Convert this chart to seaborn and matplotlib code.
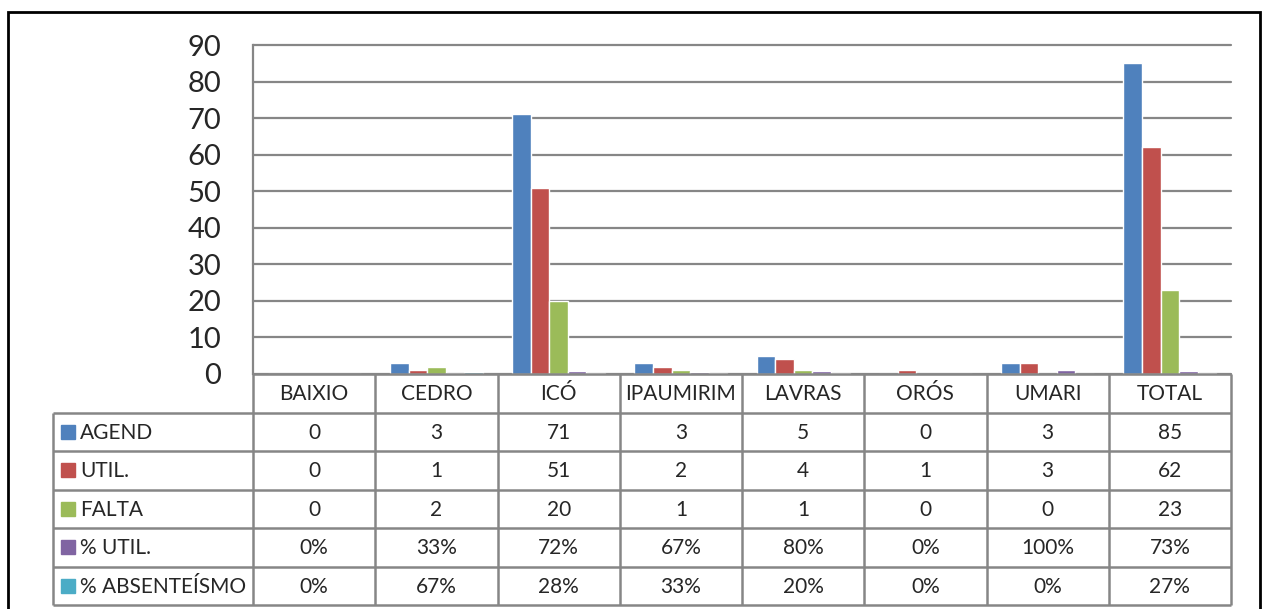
import pandas as pd
import matplotlib.pyplot as plt
import seaborn as sns
from matplotlib.patches import Rectangle

cidades = ['BAIXIO', 'CEDRO', 'ICÓ', 'IPAUMIRIM', 'LAVRAS', 'ORÓS', 'UMARI', 'TOTAL']
series = ['AGEND', 'UTIL.', 'FALTA', '% UTIL.', '% ABSENTEÍSMO']
agend = [0, 3, 71, 3, 5, 0, 3, 85]
util = [0, 1, 51, 2, 4, 1, 3, 62]
falta = [0, 2, 20, 1, 1, 0, 0, 23]
pct_util = [0, 0.33, 0.72, 0.67, 0.80, 0, 1.00, 0.73]
pct_abs = [0, 0.67, 0.28, 0.33, 0.20, 0, 0, 0.27]
cores = ['#4F81BD', '#C0504D', '#9BBB59', '#8064A2', '#4BACC6']

valores = [agend, util, falta, pct_util, pct_abs]
rows = []
for s, vals in zip(series, valores):
    for c, v in zip(cidades, vals):
        rows.append({'cidade': c, 'serie': s, 'valor': v})
df = pd.DataFrame(rows)

sns.set_style('white')
plt.rcParams['font.family'] = ['Lato', 'DejaVu Sans']

W, H = 1263, 609
fig = plt.figure(figsize=(W / 100, H / 100), dpi=100)

def px(x0, y0, x1, y1):
    # pixel box (top-left origin) -> figure fraction
    return [x0 / W, 1 - y1 / H, (x1 - x0) / W, (y1 - y0) / H]

grid_c = '#868686'

ax = fig.add_axes(px(253, 45, 1231, 374))
sns.barplot(data=df, x='cidade', y='valor', hue='serie', palette=cores,
            width=0.76, saturation=1, legend=False, ax=ax)
ax.set_ylim(0, 90)
ax.set_xlim(-0.5, len(cidades) - 0.5)
ax.set_yticks(range(0, 91, 10))
ax.tick_params(axis='y', labelsize=21, length=0, pad=23)
ax.set_xticks([])
ax.set_xlabel('')
ax.set_ylabel('')
ax.set_axisbelow(True)
ax.yaxis.grid(True, color=grid_c, lw=1.6)
for sp in ['top', 'right', 'bottom']:
    ax.spines[sp].set_visible(False)
ax.spines['left'].set_color(grid_c)
ax.spines['left'].set_linewidth(1.6)
for gl in ax.get_ygridlines():
    gl.set_clip_on(False)

# data table below the chart
n = len(cidades)
w_lab = 200 / ((1231 - 253) / n)
axt = fig.add_axes(px(53, 374, 1231, 605))
axt.set_xlim(-0.5 - w_lab, n - 0.5)
axt.set_ylim(6, 0)
axt.axis('off')

lk = dict(color=grid_c, lw=1.8, solid_capstyle='butt', clip_on=False)
axt.plot([-0.5, n - 0.5], [0, 0], **lk)
for r in range(1, 7):
    axt.plot([-0.5 - w_lab, n - 0.5], [r, r], **lk)
axt.plot([-0.5 - w_lab, -0.5 - w_lab], [1, 6], **lk)
for k in range(n + 1):
    axt.plot([k - 0.5, k - 0.5], [0, 6], **lk)

fs = 15
for i, c in enumerate(cidades):
    axt.text(i, 0.52, c, ha='center', va='center', fontsize=fs)

for r, (s, vals, cor) in enumerate(zip(series, valores, cores), start=1):
    axt.plot(-0.5 - w_lab + 0.12, r + 0.5, marker='s', ms=10, color=cor, ls='none')
    axt.text(-0.5 - w_lab + 0.22, r + 0.52, s, ha='left', va='center', fontsize=fs)
    for i, v in enumerate(vals):
        txt = f'{round(v * 100)}%' if s.startswith('%') else str(v)
        axt.text(i, r + 0.52, txt, ha='center', va='center', fontsize=fs)

# outer chart frame
fig.add_artist(Rectangle((8 / W, -0.05), (1260 - 8) / W, 1.05 - 12 / H,
                         transform=fig.transFigure, fill=False,
                         edgecolor='black', lw=2))

plt.savefig('out.png', dpi=100)
